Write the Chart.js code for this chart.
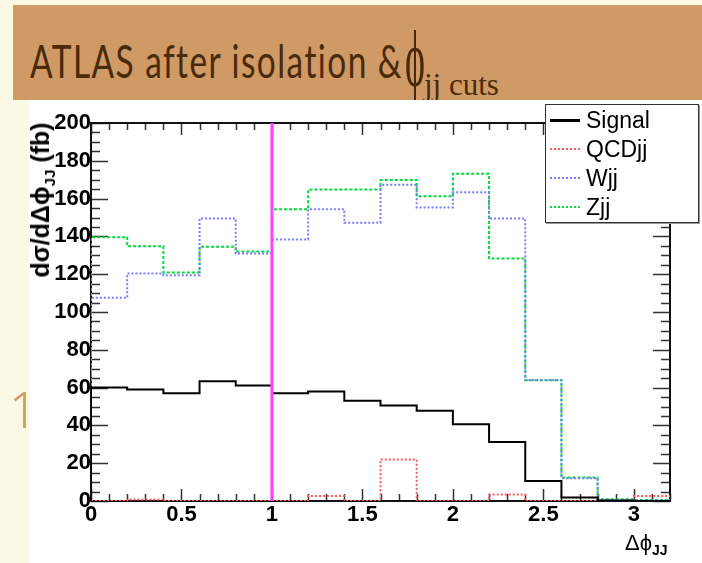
<!DOCTYPE html>
<html>
<head>
<meta charset="utf-8">
<script src="https://cdn.jsdelivr.net/npm/chart.js@4.4.1/dist/chart.umd.min.js"></script>
<style>
  body { margin: 0; width: 702px; height: 563px; overflow: hidden; background: #fbf9e4; position: relative; }
  .abs { position: absolute; white-space: nowrap; }
  #header { left: 13px; top: 5px; width: 689px; height: 95px; background: #d09a66; }
  #panel { left: 29px; top: 100px; width: 673px; height: 463px; background: #fff; }
  .title { color: #4b2a0a; }
  #legend { left: 545px; top: 104px; width: 152px; height: 117px; background: #fff; border: 1px solid #333;
            box-shadow: 1px 1px 0 #999; font: 23px 'Liberation Sans', Arial, sans-serif; }
  .row { position: absolute; left: 4px; height: 30px; display: flex; align-items: center; }
  .sample { width: 30px; margin-right: 6px; }
</style>
</head>
<body>
<div class="abs" id="header"></div>
<div class="abs title" id="mainTitle" style="left:30px; top:33px; font: 400 46px Lato, 'Liberation Sans', sans-serif; letter-spacing: 2px; transform-origin: left top;">ATLAS after isolation &amp;</div>
<div class="abs title" id="phi" style="left:405px; top:14px; font: 80px 'Liberation Serif', 'DejaVu Serif', serif; transform-origin: left top;">ϕ</div>
<div class="abs title" style="left:424px; top:67px; font: 31px 'Liberation Serif', serif;">jj cuts</div>
<div class="abs" style="left:9px; top:375px; font: 300 50px 'Noto Sans', sans-serif; color:#d39c62;">1</div>

<div class="abs" id="panel">
  <canvas id="histo" width="646" height="463"></canvas>
</div>

<div class="abs" style="left:42px; top:200px; transform: translate(-50%,-50%) rotate(-90deg); font: bold 25px 'Liberation Sans', Arial, sans-serif;">dσ/dΔϕ<sub style="font-size:15px;">JJ</sub> (fb)</div>
<div class="abs" style="left:625px; top:530px; font: 22px 'Liberation Sans', Arial, sans-serif;">Δϕ<sub style="font: bold 14px 'Liberation Sans', Arial, sans-serif;">JJ</sub></div>

<div class="abs" id="legend"></div>

<script>
// bin edges of the delta-phi histogram (0.2 wide)
const binEdges = [0, 0.2, 0.4, 0.6, 0.8, 1.0, 1.2, 1.4, 1.6, 1.8, 2.0, 2.2, 2.4, 2.6, 2.8, 3.0, 3.2];

// d(sigma)/d(delta phi) in fb, one value per bin
const signal = [60.0, 59.0, 57.0, 63.4, 61.1, 57.0, 58.0, 53.1, 50.5, 47.7, 40.6, 31.2, 10.6, 1.8, 0.3, 0.0];
const qcdjj  = [0, 0.8, 0, 0, 0, 0, 2.6, 0, 21.9, 0, 0, 3.5, 0, 0, 0, 2.6];
const wjj    = [107.5, 120.4, 119.5, 149.5, 131.0, 138.4, 154.4, 147.2, 167.3, 155.3, 163.4, 149.5, 64.0, 12.0, 0.5, 0.3];
const zjj    = [139.6, 134.8, 120.9, 134.5, 132.0, 154.4, 164.8, 164.8, 169.9, 161.3, 173.1, 128.3, 63.9, 12.4, 0.9, 0.5];

const cutValue = 1.0;
const xTicks = [0, 0.5, 1, 1.5, 2, 2.5, 3];
const yTicks = [0, 20, 40, 60, 80, 100, 120, 140, 160, 180, 200];

// turn bin contents into points for a stepped line
function histPoints(vals) {
  let pts = [{ x: binEdges[0], y: 0 }];
  for (let i = 0; i < vals.length; i++) {
    pts.push({ x: binEdges[i], y: vals[i] });
  }
  pts.push({ x: binEdges[binEdges.length - 1], y: vals[vals.length - 1] });
  pts.push({ x: binEdges[binEdges.length - 1], y: 0 });
  return pts;
}

function histSet(label, vals, color, dash, width) {
  return {
    label: label,
    data: histPoints(vals),
    borderColor: color,
    borderWidth: width,
    borderDash: dash,
    stepped: true,
    pointRadius: 0,
    fill: false
  };
}

// ROOT style frame with ticks pointing into the plot on all four sides
const innerTicks = {
  id: 'innerTicks',
  beforeDatasetsDraw(chart) {
    const { ctx, chartArea: a, scales: { x, y } } = chart;
    ctx.save();
    ctx.strokeStyle = '#333';
    ctx.lineWidth = 1.5;
    ctx.beginPath();
    for (let i = 0; i <= 32; i++) {
      const px = Math.round(x.getPixelForValue(i / 10)) + 0.5;
      const len = i % 5 === 0 ? 12 : 7;
      ctx.moveTo(px, a.bottom); ctx.lineTo(px, a.bottom - len);
      ctx.moveTo(px, a.top); ctx.lineTo(px, a.top + len);
    }
    for (let v = 0; v <= 200; v += 5) {
      const py = Math.round(y.getPixelForValue(v)) + 0.5;
      const len = v % 20 === 0 ? 17 : 9;
      ctx.moveTo(a.left, py); ctx.lineTo(a.left + len, py);
      ctx.moveTo(a.right, py); ctx.lineTo(a.right - len, py);
    }
    ctx.stroke();
    ctx.strokeStyle = '#111';
    ctx.lineWidth = 2;
    ctx.strokeRect(a.left, a.top, a.right - a.left, a.bottom - a.top);
    ctx.restore();
  }
};

const tickFont = { family: "'Liberation Sans', Arial, sans-serif", weight: 'bold', size: 22 };

const chart = new Chart(document.getElementById('histo'), {
  type: 'line',
  data: {
    datasets: [
      { label: '', data: [{ x: cutValue, y: 0 }, { x: cutValue, y: 200 }], borderColor: '#ff44ff', borderWidth: 3, pointRadius: 0 },
      histSet('Signal', signal, '#000', [], 2),
      histSet('QCDjj', qcdjj, '#ff5a5a', [2, 2], 2),
      histSet('Wjj', wjj, '#7a7aff', [2, 2], 2),
      histSet('Zjj', zjj, '#00dc3c', [3, 2], 2)
    ]
  },
  options: {
    responsive: false,
    devicePixelRatio: 1,
    animation: false,
    layout: { padding: { left: 0, top: 23, right: 5, bottom: 0 } },
    plugins: { legend: { display: false }, tooltip: { enabled: false } },
    scales: {
      x: {
        type: 'linear', min: 0, max: 3.2,
        afterFit: s => { s.height = 62; },
        afterBuildTicks: s => { s.ticks = xTicks.map(v => ({ value: v })); },
        grid: { display: false, drawTicks: false },
        border: { display: false },
        ticks: { font: tickFont, color: '#000', padding: 1, maxRotation: 0, autoSkip: false, callback: v => String(v) }
      },
      y: {
        type: 'linear', min: 0, max: 200,
        afterFit: s => { s.width = 62; },
        afterBuildTicks: s => { s.ticks = yTicks.map(v => ({ value: v })); },
        grid: { display: false, drawTicks: false },
        border: { display: false },
        ticks: { font: tickFont, color: '#000', padding: 0, autoSkip: false, callback: v => String(v) }
      }
    }
  },
  plugins: [innerTicks]
});

// legend built from the labelled datasets
const legend = document.getElementById('legend');
chart.data.datasets.filter(d => d.label).forEach((d, i) => {
  const row = document.createElement('div');
  row.className = 'row';
  row.style.top = (i * 29) + 'px';
  const sample = document.createElement('div');
  sample.className = 'sample';
  sample.style.borderTop = d.borderDash.length ? '2px dotted ' + d.borderColor : '3px solid ' + d.borderColor;
  row.appendChild(sample);
  row.appendChild(document.createTextNode(d.label));
  legend.appendChild(row);
});

// squeeze the heading and phi to the narrow slide lettering
const mainTitle = document.getElementById('mainTitle');
mainTitle.style.transform = 'scaleX(' + (373 / mainTitle.getBoundingClientRect().width) + ')';
const phi = document.getElementById('phi');
phi.style.transform = 'scaleX(' + (20 / phi.getBoundingClientRect().width) + ')';
</script>
</body>
</html>
